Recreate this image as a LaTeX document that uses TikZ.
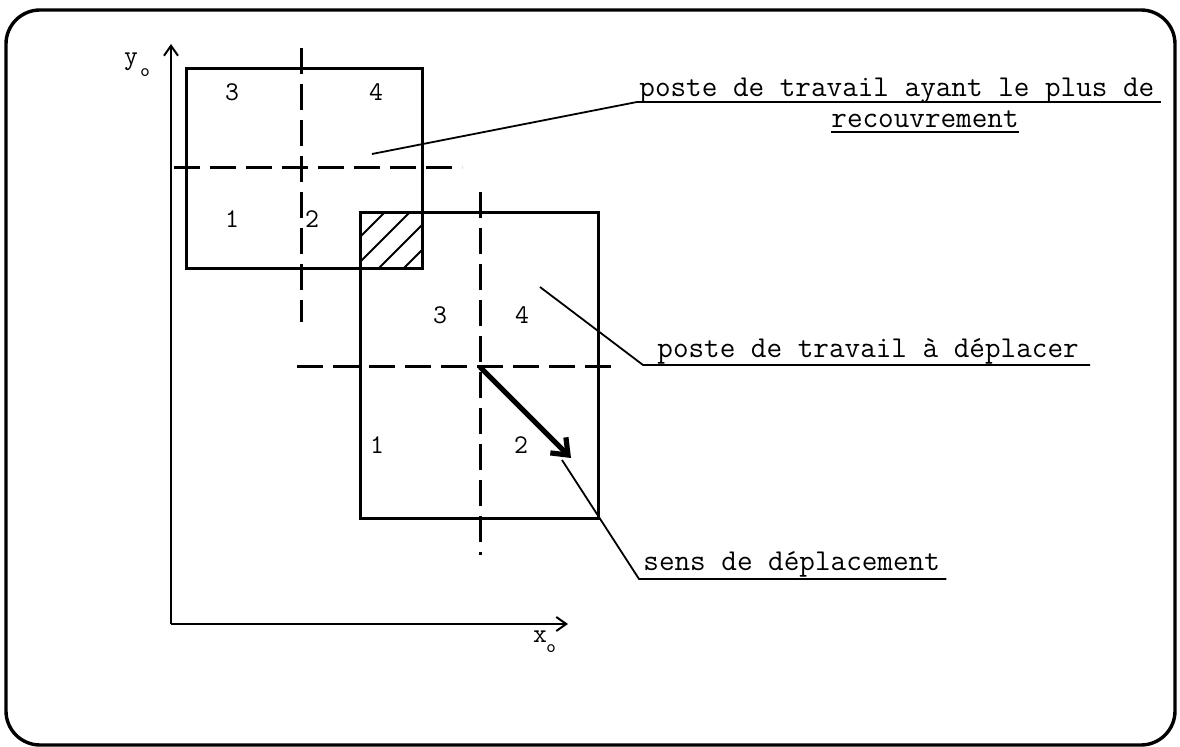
\documentclass[tikz,border=0pt]{standalone}
\usepackage{fontspec}
\usetikzlibrary{arrows.meta, calc}

\tikzset{
  chiffre/.style={font=\ttfamily\addfontfeatures{FakeBold=2.6}\fontsize{13.5}{15}\selectfont, inner sep=0pt},
  indice/.style={font=\ttfamily\addfontfeatures{FakeBold=2.6}\fontsize{9}{10}\selectfont, inner sep=0pt, anchor=base},
  legende/.style={font=\ttfamily\addfontfeatures{FakeBold=2.4}\fontsize{15.15}{17}\selectfont, inner sep=0pt, anchor=base west},
  poste/.style={line width=1.5pt},
  axe/.style={line width=1pt, -{Straight Barb[length=5pt, width=7pt]}},
  mediane/.style={line width=1.5pt, dash pattern=on 13pt off 5pt},
  renvoi/.style={line width=0.9pt},
  hachure/.style={line width=0.9pt},
  sens/.style={line width=2.6pt, -{Straight Barb[length=7pt, width=11pt]}},
}

\begin{document}
\begin{tikzpicture}[x=0.5pt, y=-0.5pt]
    \useasboundingbox (0,0) rectangle (1180,747);
    \draw[line width=1.7pt, rounded corners=17pt] (6,10) rectangle (1175,745);

    % axes
    \coordinate (O) at (171,624);
    \coordinate (xfin) at (568,624);
    \coordinate (yfin) at (171,44);
    \draw[axe] (O) -- (xfin);
    \draw[axe] (O) -- (yfin);
    \node[chiffre, anchor=base] (ylab) at (131,65) {y};
    \node[indice] (yind) at (145,77) {o};
    \node[chiffre, anchor=base] (xlab) at (540,643) {x};
    \node[indice] (xind) at (551,653) {o};

    % poste ayant le plus de recouvrement
    \draw[poste] (186,69) rectangle (422,269);
    \draw[mediane] (301,48) -- (301,322);
    \draw[mediane] (174,168) -- (462,168);
    \node[chiffre] (a3) at (232,92) {3};
    \node[chiffre] (a4) at (376,92) {4};
    \node[chiffre] (a1) at (232,219) {1};
    \node[chiffre] (a2) at (312,219) {2};

    % zone de recouvrement
    \begin{scope}
        \clip (360,213) rectangle (422,269);
        \foreach \c in {328,353,378,403}
            \draw[hachure] (\c,269) -- ++(80,-80);
    \end{scope}

    % poste a deplacer
    \draw[poste] (360,213) rectangle (598,519);
    \draw[mediane] (480,192) -- (480,555);
    \draw[mediane] (297,367) -- (620,367);
    \node[chiffre] (b3) at (440,315) {3};
    \node[chiffre] (b4) at (522,315) {4};
    \node[chiffre] (b1) at (377,445) {1};
    \node[chiffre] (b2) at (521,445) {2};

    \coordinate (centre) at (480,367);
    \coordinate (pointe) at (571,458);
    \draw[sens] (centre) -- (pointe);

    % legendes
    \node[legende] (lab1) at (639,97) {poste de travail ayant le plus de};
    \node[legende] (lab1b) at (831,128) {recouvrement};
    \node[legende] (lab2) at (657,358) {poste de travail à déplacer};
    \node[legende] (lab3) at (643,571) {sens de déplacement};

    \coordinate (r1) at (372,154);
    \coordinate (r2) at (540,287);
    \coordinate (r3) at (562,460);
    \draw[renvoi] (r1) -- ($(lab1.base west)+(-2,5)$) -- ($(lab1.base east)+(6,5)$);
    \draw[renvoi] ($(lab1b.base west)+(0,4)$) -- ($(lab1b.base east)+(0,4)$);
    \draw[renvoi] (r2) -- ($(lab2.base west)+(-14,7)$) -- ($(lab2.base east)+(11,7)$);
    \draw[renvoi] (r3) -- ($(lab3.base west)+(-4,8)$) -- ($(lab3.base east)+(6,8)$);
\end{tikzpicture}
\end{document}
